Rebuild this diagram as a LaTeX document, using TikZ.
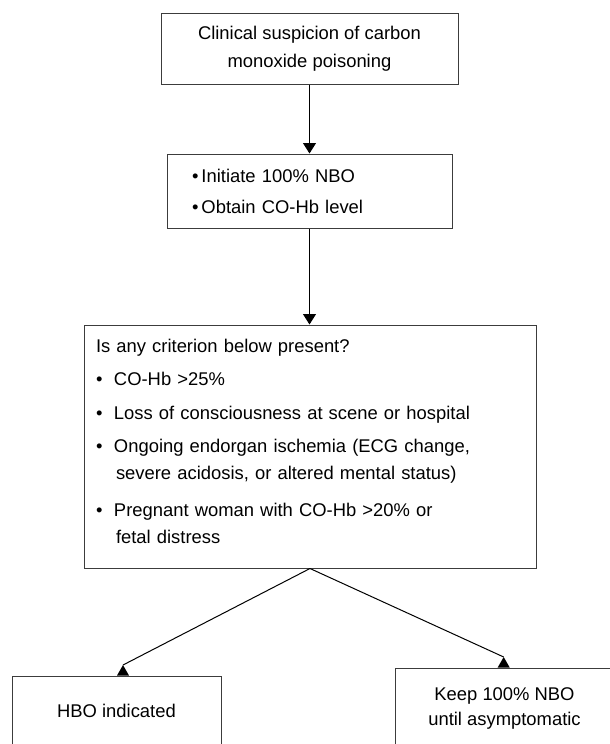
\documentclass[tikz,border=0pt]{standalone}
\usepackage{fontspec}
\setmainfont{Liberation Sans}
\usetikzlibrary{arrows.meta}
\definecolor{boxline}{RGB}{60,60,60}
\tikzstyle{box}   = [draw=boxline, line width=1pt, inner ysep=0pt]
\tikzstyle{arrow} = [-{Triangle[width=13pt, length=10.5pt]}, line width=1pt]

\begin{document}
\begin{tikzpicture}[x=1pt, y=-1pt, font=\fontsize{18.4}{27.6}\selectfont]
% page: 610 x 744, y runs downwards
\path[use as bounding box, clip] (0,0) rectangle (610,744);
% boxes
\node[box, minimum width=297pt, minimum height=71pt, align=center] (susp) at (309.5,48.5)
  {Clinical suspicion of carbon\\monoxide poisoning};
\node[box, minimum height=74pt, text width=235pt, inner xsep=25pt, align=left,
  font=\fontsize{18.4}{31}\selectfont] (nbo) at (309.5,191)
  {\makebox[9.5pt][l]{\textbullet}Initiate 100\% NBO\\
   \makebox[9.5pt][l]{\textbullet}Obtain CO-Hb level};
\node[box, minimum height=243pt, text width=428pt, inner xsep=12pt, align=left,
  font=\fontsize{18.4}{26.5}\selectfont] (crit) at (310,446.5)
  {Is any criterion below present?\\[7pt]
   \makebox[18pt][l]{\textbullet}CO-Hb >25\%\\[7pt]
   \makebox[18pt][l]{\textbullet}Loss of consciousness at scene or hospital\\[7pt]
   \makebox[18pt][l]{\textbullet}Ongoing endorgan ischemia (ECG change,\\
   \hspace*{20pt}severe acidosis, or altered mental status)\\[11pt]
   \makebox[18pt][l]{\textbullet}Pregnant woman with CO-Hb >20\% or\\
   \hspace*{20pt}fetal distress\rule[-11pt]{0pt}{11pt}};
\node[box, minimum width=209pt, minimum height=69pt] (hbo) at (116.5,710.5) {HBO indicated};
\node[box, minimum width=219pt, minimum height=81pt, align=center,
  font=\fontsize{18.4}{25}\selectfont] (keep) at (504.5,708.5)
  {Keep 100\% NBO\\until asymptomatic};
% arrows
\draw[arrow] (susp.south) -- (nbo.north);
\draw[arrow] (nbo.south) -- (nbo.south |- crit.north);
% branches, tips stand upright on the boxes
\coordinate (hboTip) at (123,665);
\coordinate (keepTip) at (503.7,657);
\draw[line width=1pt] (crit.south) -- (hboTip);
\draw[line width=1pt] (crit.south) -- (keepTip);
\fill (hboTip) -- ++(6,10.5) -- ++(-12,0) -- cycle;
\fill (keepTip) -- ++(6,10.5) -- ++(-12,0) -- cycle;
\end{tikzpicture}
\end{document}
